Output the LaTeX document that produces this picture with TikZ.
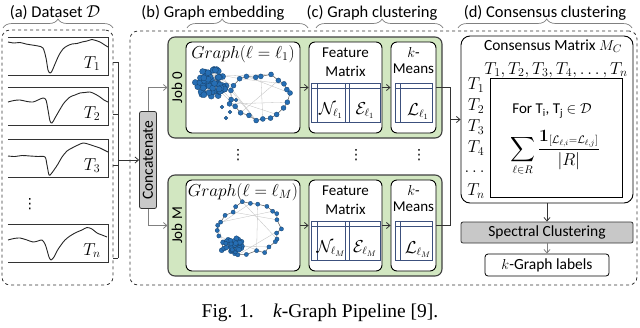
\documentclass[tikz,border=0pt]{standalone}
\usepackage{amsmath}
\usepackage{graphicx}
\usepackage[no-math]{fontspec}
\setmainfont{Carlito}
\newfontfamily\capfont{Liberation Serif}
\newfontfamily\dotsfont{DejaVu Sans}
\usetikzlibrary{arrows.meta,decorations.pathreplacing,positioning}

\definecolor{jobgreen}{RGB}{210,231,193}
\definecolor{boxgray}{RGB}{200,200,200}
\definecolor{nodeblue}{RGB}{38,110,180}
\definecolor{matblue}{RGB}{60,80,125}

\begin{document}
\begin{tikzpicture}[x=1pt, y=-1pt,
    hdrlbl/.style={font=\fontsize{16.5}{19}\selectfont, inner sep=0pt},
    stagebrace/.style={draw=gray, line width=0.7pt, decorate,
      decoration={brace, amplitude=9pt, aspect=#1}},
    dashbox/.style={draw=black!80, dashed, line width=0.8pt, rounded corners=8pt},
    tsframe/.style={minimum width=100pt, minimum height=37pt, inner sep=0pt},
    framelin/.style={draw=black!80, line width=0.8pt},
    tsline/.style={draw=black!85, line width=0.9pt, line join=round},
    mathlbl/.style={font=\fontsize{17}{19}\selectfont, inner sep=1pt},
    vdotlbl/.style={font=\dotsfont\fontsize{14}{16}\selectfont, inner sep=0pt},
    txtlbl/.style={font=\fontsize{15}{19}\selectfont, inner sep=0pt, align=center},
    graybox/.style={fill=boxgray, draw=black!80, line width=0.8pt, rounded corners=2pt, inner sep=0pt},
    jobbox/.style={fill=jobgreen, draw=black!75, line width=1.1pt, rounded corners=7pt,
      minimum width=274pt, minimum height=101pt},
    whitebox/.style={fill=white, draw=black, line width=0.9pt, rounded corners=6pt,
      minimum height=91pt, inner sep=0pt},
    matline/.style={draw=matblue, line width=0.7pt},
    link/.style={draw=black!80, line width=0.8pt},
    arr/.style={link, -{Straight Barb[length=3.5pt, width=6pt]}},
    grayarr/.style={draw=gray, line width=0.8pt, -{Straight Barb[length=3.5pt, width=6pt]}},
    gnode/.style={fill=nodeblue, draw=nodeblue!60!black, line width=0.3pt},
    gedge/.style={draw=black!65, line width=0.5pt},
    gfaint/.style={draw=black!25, line width=0.3pt}
  ]
  \useasboundingbox (0,0) rectangle (640,327);

  % stage headers
  \node[hdrlbl] (hdra) at (55,13) {(a) Dataset $\mathcal{D}$};
  \node[hdrlbl] (hdrb) at (213,13) {(b) Graph embedding};
  \node[hdrlbl] (hdrc) at (372,13) {(c) Graph clustering};
  \node[hdrlbl] (hdrd) at (545,13) {(d) Consensus clustering};
  \draw[stagebrace=0.5] (3,28) -- (113,28);
  \draw[stagebrace=0.29] (187,28) -- (308,28);
  \draw[stagebrace=0.52] (316,28) -- (443,28);
  \draw[stagebrace=0.51] (458,28) -- (632,28);

  \node[dashbox, minimum width=111pt, minimum height=255pt] (dataset) at (57.5,157.5) {};
  \node[dashbox, minimum width=507pt, minimum height=254pt] (pipeline) at (383.5,158) {};

  % time series
  \foreach \nm/\yc/\lbl/\tk in {ts1/56.5/T_1/62, ts2/106.5/T_2/114, ts3/158.5/T_3/165, tsn/243.5/T_n/258}{
    \node[tsframe] (\nm) at (58,\yc) {};
    \draw[framelin] (\nm.north west) -- (\nm.north east) -- (\nm.south east) -- (\nm.south west);
    \node[mathlbl, font=\fontsize{18}{20}\selectfont] at (92,\yc+7) {$\lbl$};
    \coordinate (tk\nm) at (113,\tk);
  }
  \draw[tsline] plot[smooth, tension=0.5] coordinates {(8,42) (14,43) (20,42.5) (26,44) (32,45) (38,46)
    (43,48) (46,58) (48,70) (50,73) (52,71) (55,64) (59,55) (63,49) (67,46) (72,44) (77,43.5)
    (82,42) (87,41) (92,39.5) (96,40.5) (100,42) (104,44.5) (108,47)};
  \draw[tsline] plot[smooth, tension=0.5] coordinates {(8,102) (14,100.5) (20,100) (27,101.5) (33,102)
    (38,100) (43,98) (46,100) (48,110) (50,121) (52,123) (55,118) (59,111) (64,103) (70,97) (75,95)
    (80,93) (85,92.5) (90,92) (95,94) (100,97) (104,100) (108,102)};
  \draw[tsline] plot[smooth, tension=0.5] coordinates {(8,156) (15,156.5) (22,155.5) (30,156) (38,156.5)
    (45,157) (47,165) (49,175) (51,174) (54,170) (58,164) (62,157) (67,151) (72,148) (78,145)
    (83,143) (88,144) (94,146) (100,148) (104,150) (108,152)};
  \draw[tsline] plot[smooth, tension=0.5] coordinates {(8,240) (14,238.5) (20,238) (27,240) (33,242)
    (38,241) (42,240) (45,244) (47,250) (49,257) (51,260) (54,257) (57,251) (61,245) (65,240)
    (70,236) (76,232.5) (82,230) (87,227.5) (92,229) (97,233) (102,235) (107,237)};
  \node[vdotlbl] (tsdots) at (30,204) {⋮};

  % concatenation
  \node[graybox, minimum width=17pt, minimum height=97pt] (concat) at (148,160)
    {\rotatebox{90}{\fontsize{15.5}{18}\selectfont Concatenate}};
  \coordinate (busx) at (118,0);
  \foreach \nm in {ts1,ts2,ts3,tsn}
    \draw[link] (tk\nm) -- (tk\nm -| busx);
  \draw[link] (tkts1 -| busx) -- (tktsn -| busx);
  \draw[arr] (concat.west -| busx) -- (concat.west);

  % jobs
  \foreach \j/\yc/\sub in {0/87.5/1, M/225.5/M}{
    \node[jobbox] (job\j) at (305,\yc) {};
    \node[txtlbl] (jl\j) at (177,\yc) {\rotatebox{90}{Job \j}};
    \node[whitebox, minimum width=114pt] (graph\j) at (243,\yc) {};
    \node[mathlbl] (gt\j) at (243,\yc-33.5) {$Graph(\ell = \ell_{\sub})$};
    \node[whitebox, minimum width=73pt] (feat\j) at (345.5,\yc) {};
    \node[txtlbl] (ft\j) at (345.5,\yc-25) {Feature\\Matrix};
    \node[whitebox, minimum width=45pt] (km\j) at (413.5,\yc) {};
    \node[txtlbl, font=\fontsize{15}{16}\selectfont] (kt\j) at (413.5,\yc-27) {$k$-\\Means};
    \draw[matline] (311,\yc-4.5) rectangle (380,\yc+34.5);
    \draw[matline] (311,\yc+0.5) -- (380,\yc+0.5);
    \foreach \v in {317,345,349}
      \draw[matline] (\v,\yc-4.5) -- (\v,\yc+34.5);
    \draw[matline] (395,\yc-4.5) rectangle (432,\yc+34.5);
    \draw[matline] (395,\yc+0.5) -- (432,\yc+0.5);
    \draw[matline] (400,\yc-4.5) -- (400,\yc+34.5);
    \node[mathlbl, font=\fontsize{16}{18}\selectfont] at (331,\yc+23) {$\mathcal{N}_{\ell_{\sub}}$};
    \node[mathlbl, font=\fontsize{16}{18}\selectfont] at (365,\yc+23) {$\mathcal{E}_{\ell_{\sub}}$};
    \node[mathlbl, font=\fontsize{16}{18}\selectfont] at (418,\yc+24) {$\mathcal{L}_{\ell_{\sub}}$};
    \draw[arr] (graph\j.east) -- (feat\j.west);
    \draw[arr] (feat\j.east) -- (km\j.west);
  }
  \draw[grayarr] (concat.north) |- (job0.west);
  \draw[grayarr] (concat.south) |- (jobM.west);
  \foreach \x in {238,356,419}
    \node[vdotlbl] at (\x,155) {⋮};

  % graph of job 0
  \pgfmathsetseed{7}
  \foreach \i in {0,...,21}{
    \pgfmathsetmacro{\gx}{259+29*cos(\i*16.4-150)+3*rand}
    \pgfmathsetmacro{\gy}{96+22*sin(\i*16.4-150)+3*rand}
    \coordinate (ra\i) at (\gx,\gy);
  }
  \foreach \i in {0,...,59}{
    \pgfmathsetmacro{\ang}{360*rnd}
    \pgfmathsetmacro{\rad}{16*sqrt(rnd)}
    \coordinate (ca\i) at ({211+\rad*cos(\ang)},{83+0.9*\rad*sin(\ang)});
  }
  \foreach \i in {0,...,59}{
    \pgfmathtruncatemacro{\k}{mod(\i*17+5,60)}
    \draw[gfaint] (ca\i) -- (ca\k);
  }
  \foreach \i [remember=\i as \lasti (initially 0)] in {1,...,21}
    \draw[gedge] (ra\lasti) -- (ra\i);
  \foreach \i/\k in {2/9, 4/14, 6/17, 10/19, 12/20, 1/7, 15/21}
    \draw[gfaint] (ra\i) -- (ra\k);
  \foreach \i/\k in {0/0, 3/21, 8/20, 11/1, 20/15, 30/5, 44/18}
    \draw[gfaint] (ca\i) -- (ra\k);
  \foreach \i in {0,...,59}
    \path[gnode] (ca\i) circle (3);
  \foreach \i in {0,...,21}
    \path[gnode] (ra\i) circle (2.5);
  \foreach \p in {(230,112), (226,118), (222,107), (236,100)}
    \path[gnode] \p circle (1.8);

  % graph of job M
  \pgfmathsetseed{23}
  \foreach \i in {0,...,25}{
    \pgfmathsetmacro{\gx}{250+30*cos(\i*14-200)+3*rand}
    \pgfmathsetmacro{\gy}{229+25*sin(\i*14-200)+3*rand}
    \coordinate (rb\i) at (\gx,\gy);
  }
  \foreach \i in {0,...,31}{
    \pgfmathsetmacro{\ang}{360*rnd}
    \pgfmathsetmacro{\rad}{12*sqrt(rnd)}
    \coordinate (cb\i) at ({232+\rad*cos(\ang)},{246+0.7*\rad*sin(\ang)});
  }
  \foreach \i in {0,...,31}{
    \pgfmathtruncatemacro{\k}{mod(\i*11+3,32)}
    \draw[gedge] (cb\i) -- (cb\k);
  }
  \foreach \i [remember=\i as \lasti (initially 0)] in {1,...,25}
    \draw[gedge] (rb\lasti) -- (rb\i);
  \foreach \i/\k in {2/8, 5/13, 7/16, 9/20, 14/22, 3/11}
    \draw[gfaint] (rb\i) -- (rb\k);
  \foreach \i/\k in {0/0, 4/25, 9/18, 15/2, 21/19}
    \draw[gfaint] (cb\i) -- (rb\k);
  \foreach \i in {0,...,31}
    \path[gnode] (cb\i) circle (2.5);
  \foreach \i in {0,...,25}
    \path[gnode] (rb\i) circle (2.1);

  % consensus
  \coordinate (merge) at (450,119.5);
  \node[whitebox, minimum width=172pt, minimum height=167pt, rounded corners=9pt] (cons) at (547,119.5) {};
  \draw[link] (km0.east) -| (merge);
  \draw[link] (kmM.east) -| (merge);
  \draw[arr] (merge) -- (cons.west);
  \node[txtlbl, font=\fontsize{15.5}{18}\selectfont] (ctitle) at (553,46) {Consensus Matrix $M_C$};
  \node[mathlbl, font=\fontsize{16.5}{18}\selectfont] (chead) at (556,70) {$T_1, T_2, T_3, T_4, \dots, T_n$};
  \node[draw=black, line width=0.9pt, minimum width=132pt, minimum height=119pt, inner sep=0pt] (cmat) at (556,137.5) {};
  \foreach \lbl/\ry in {T_1/85, T_2/106, T_3/127, T_4/148, \dots/172, T_n/191}
    \node[mathlbl] at (476,\ry) {$\lbl$};
  \node[txtlbl] (forlbl) at (552,111) {For T\textsubscript{i}, T\textsubscript{j} $\in \mathcal{D}$};
  \node[mathlbl, font=\fontsize{16}{18}\selectfont, inner sep=0pt] (sumf) at (555,153)
    {$\displaystyle\sum_{\ell\in R}\frac{\mathbf{1}_{[\mathcal{L}_{\ell,i}=\mathcal{L}_{\ell,j}]}}{|R|}$};

  \node[graybox, minimum width=172pt, minimum height=21pt, font=\fontsize{15.5}{18}\selectfont] (spec) at (547,232.5) {Spectral Clustering};
  \node[draw=black, fill=white, line width=0.8pt, rounded corners=3pt, minimum width=124pt,
    minimum height=22pt, inner sep=0pt, font=\fontsize{15.5}{18}\selectfont] (klabels) at (547,265) {$k$-Graph labels};
  \draw[arr] (cons.south) -- (spec.north);
  \draw[grayarr] (spec.south) -- (klabels.north);

  % caption
  \node[font=\capfont\fontsize{19.5}{22}\selectfont, inner sep=0pt] (caption) at (320,313)
    {Fig. 1.\quad{\itshape k}-Graph Pipeline [9].};
\end{tikzpicture}
\end{document}
